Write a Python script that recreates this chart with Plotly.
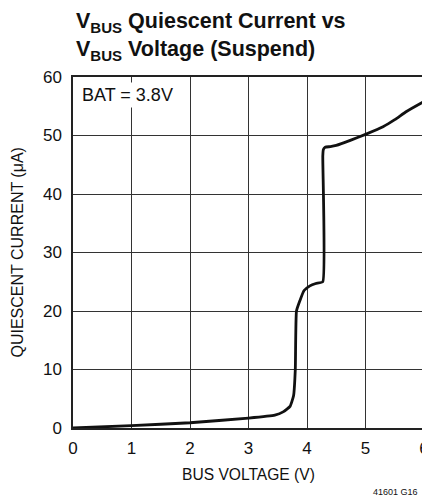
import plotly.graph_objects as go

bus_voltage = [0, 1, 2, 3, 3.45, 3.6, 3.71, 3.77, 3.8, 3.82, 3.88, 3.95, 4.05, 4.15, 4.27,
               4.27, 4.28, 4.31, 4.4, 4.5, 4.75, 5.0, 5.3, 5.5, 5.7, 6.0]
quiescent_current = [0, 0.4, 0.9, 1.7, 2.2, 2.8, 3.7, 5.5, 10, 20, 21.8, 23.5, 24.3, 24.7, 25,
                     46.5, 47.6, 48.0, 48.1, 48.3, 49.2, 50.2, 51.5, 52.7, 54.1, 55.8]
x_ticks = [0, 1, 2, 3, 4, 5, 6]
y_ticks = [0, 10, 20, 30, 40, 50, 60]

FONT = "Liberation Sans, Arial"

# page body has an 8px margin; figure is sized to fit in the 430x503 window
W, H = 422, 495
L, T, PW, PH = 65, 69, 351, 351


def px(x):
    return (x - L) / PW


def py(y):
    return 1 - (y - T) / PH


fig = go.Figure()
fig.add_trace(go.Scatter(x=bus_voltage, y=quiescent_current, mode="lines",
                         line=dict(color="#111111", width=2.8, shape="spline", smoothing=0.4),
                         showlegend=False, hoverinfo="skip"))

axis_common = dict(ticks="outside", tickcolor="rgba(0,0,0,0)", showgrid=True,
                   gridcolor="#333333", gridwidth=1, showline=True, linecolor="#222222",
                   linewidth=1.5, mirror=True, zeroline=False, tickfont=dict(size=17),
                   automargin=False)

fig.update_layout(
    width=W, height=H,
    margin=dict(l=L, r=W - L - PW, t=T, b=H - T - PH),
    paper_bgcolor="white", plot_bgcolor="white",
    font=dict(family=FONT, size=17, color="#111111"),
    xaxis=dict(range=[0, 6], tickvals=x_ticks, ticklen=4, **axis_common),
    yaxis=dict(range=[0, 60], tickvals=y_ticks, ticklen=6, **axis_common),
    annotations=[
        dict(text="<b>V<sub>BUS</sub> Quiescent Current vs</b>",
             xref="paper", yref="paper", x=px(66), y=py(14), xanchor="left", yanchor="middle",
             align="left", showarrow=False, font=dict(size=21.5, family=FONT, color="#111111")),
        dict(text="<b>V<sub>BUS</sub> Voltage (Suspend)</b>",
             xref="paper", yref="paper", x=px(66), y=py(42), xanchor="left", yanchor="middle",
             align="left", showarrow=False, font=dict(size=21.5, family=FONT, color="#111111")),
        dict(text="BAT = 3.8V", xref="x", yref="y", x=0.1, y=59.2, xanchor="left", yanchor="top",
             showarrow=False, bgcolor="white", font=dict(size=18), borderpad=2),
        dict(text="QUIESCENT CURRENT (μA)", xref="paper", yref="paper", x=px(9), y=0.5,
             xanchor="center", yanchor="middle", textangle=-90, showarrow=False,
             font=dict(size=16)),
        dict(text="BUS VOLTAGE (V)", xref="paper", yref="paper", x=px(240), y=py(466),
             xanchor="center", yanchor="middle", showarrow=False, font=dict(size=15.6)),
        dict(text="41601 G16", xref="paper", yref="paper", x=px(412), y=py(484),
             xanchor="right", yanchor="middle", showarrow=False, font=dict(size=9)),
    ],
)

fig.write_html("out.html")
